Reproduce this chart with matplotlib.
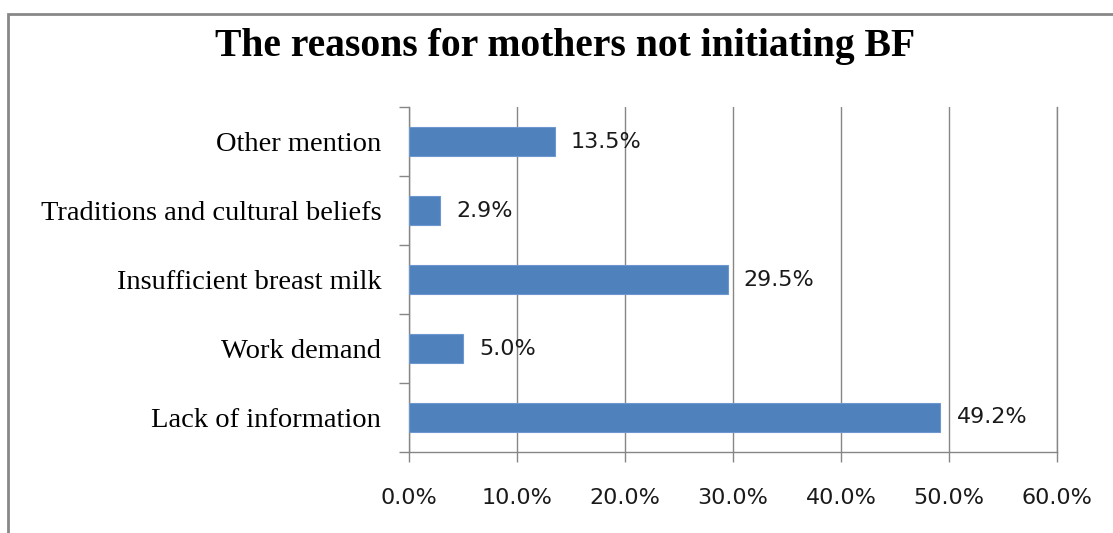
"""Horizontal bar chart of the reasons for mothers not initiating BF."""

import matplotlib.pyplot as plt
from matplotlib.patches import Rectangle
from matplotlib.ticker import FixedLocator, FuncFormatter, MultipleLocator

# Categories from bottom to top, values in percent
reasons = [
    "Lack of information",
    "Work demand",
    "Insufficient breast milk",
    "Traditions and cultural beliefs",
    "Other mention",
]
shares = [49.2, 5.0, 29.5, 2.9, 13.5]

bar_color = "#4F81BD"
grid_color = "#868686"

fig = plt.figure(figsize=(11.13, 5.33), dpi=100)
ax = fig.add_axes([0.3675, 0.152, 0.5822, 0.647])

positions = list(range(len(reasons)))
ax.barh(positions, shares, height=0.42, color=bar_color, edgecolor="#6E97CF",
        linewidth=0.8, zorder=3)

# Value labels right of the bars
for pos, val in zip(positions, shares):
    ax.text(val + 1.5, pos, f"{val:.1f}%", va="center", ha="left",
            fontsize=16, color="#1a1a1a", family="DejaVu Sans")

ax.set_xlim(0, 60)
ax.set_ylim(-0.5, len(reasons) - 0.5)
ax.xaxis.set_major_locator(MultipleLocator(10))
ax.xaxis.set_major_formatter(FuncFormatter(lambda v, _: f"{v:.1f}%"))
ax.grid(axis="x", color=grid_color, linewidth=1.0, zorder=0)

# Category labels in the middle, tick marks on the boundaries
ax.set_yticks(positions)
ax.set_yticklabels(reasons, family="Liberation Serif", fontsize=20.5)
ax.tick_params(axis="y", which="major", length=0, pad=20)
ax.yaxis.set_minor_locator(FixedLocator([p - 0.5 for p in positions] + [len(reasons) - 0.5]))
ax.tick_params(axis="y", which="minor", length=7, color=grid_color, width=1)
ax.tick_params(axis="x", length=7, color=grid_color, width=1, pad=19,
               labelsize=16, labelcolor="#1a1a1a")

ax.spines["top"].set_visible(False)
for side in ("left", "bottom", "right"):
    ax.spines[side].set_color(grid_color)
    ax.spines[side].set_linewidth(1.0)

fig.text(0.508, 0.912, "The reasons for mothers not initiating BF",
         ha="center", va="center", family="Liberation Serif",
         fontweight="bold", fontsize=28.5)

# Chart area border
fig.patches.append(Rectangle((8 / 1113, -0.1), 1.2, 1.1 - 14 / 533,
                             transform=fig.transFigure, fill=False,
                             edgecolor="#888888", linewidth=2))

fig.savefig("out.png", dpi=100)
plt.close(fig)
